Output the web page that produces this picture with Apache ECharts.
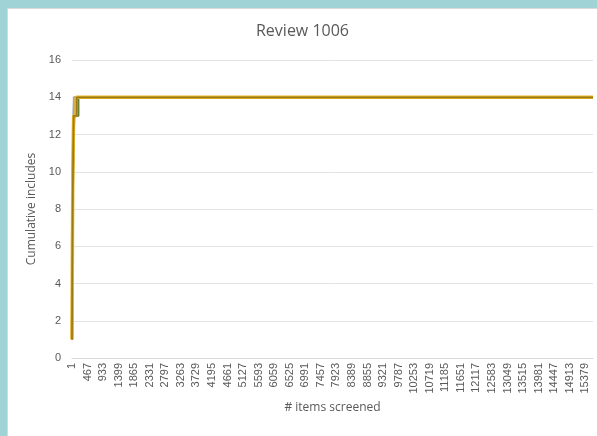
<!DOCTYPE html>
<html>
<head>
<meta charset="utf-8">
<script src="https://cdn.jsdelivr.net/npm/echarts@6/dist/echarts.min.js"></script>
<style>
  html, body { margin: 0; padding: 0; background: #9fd3d6; }
  #main { position: absolute; left: 7px; top: 8px; width: 590px; height: 428px; background: #fff; box-sizing: border-box; border-left: 1px solid #d9d9d9; border-top: 1px solid #d9d9d9; }
</style>
</head>
<body>
<div id="main"></div>
<script>
// x = items screened - 1, y = cumulative includes
var blueRun = [[0, 1], [4, 3], [10, 6], [18, 8], [28, 10], [40, 12], [55, 13], [65, 14], [15610, 14]];
var orangeRun = [[0, 1], [6, 4], [15, 7], [30, 10], [45, 12], [70, 13], [130, 14], [15610, 14]];
var grayRun = [[0, 2], [8, 6], [20, 9], [35, 12], [50, 13], [60, 14], [15610, 14]];
var greenRun = [[0, 1], [10, 5], [25, 9], [45, 12], [60, 13], [190, 14], [15610, 14]];
var goldRun = [[0, 1], [5, 3], [12, 6], [25, 10], [40, 12], [50, 13], [120, 14], [15610, 14]];
var darkGoldRun = [[0, 1], [8, 5], [20, 8], [35, 11], [50, 13], [140, 14], [15610, 14]];

var xMax = 15610;
var xStep = 466;
var yTicks = [0, 2, 4, 6, 8, 10, 12, 14, 16];

var chart = echarts.init(document.getElementById('main'));

function line(name, data, color, width) {
    return {
        name: name, type: 'line', data: data, step: 'end',
        showSymbol: false, animation: false,
        lineStyle: {color: color, width: width}
    };
}

chart.setOption({
    backgroundColor: '#fff',
    title: {
        text: 'Review 1006', left: 'center', top: 9,
        textStyle: {color: '#595959', fontSize: 16, fontWeight: 'normal', fontFamily: 'Open Sans'}
    },
    grid: {left: 64, right: 4, top: 51, bottom: 78},
    xAxis: {
        type: 'value', min: 0, max: xMax, interval: xStep,
        name: '# items screened', nameLocation: 'middle', nameGap: 44,
        nameTextStyle: {color: '#595959', fontSize: 12, fontFamily: 'Open Sans'},
        axisLine: {show: true, lineStyle: {color: '#d9d9d9'}},
        axisTick: {show: false},
        splitLine: {show: false},
        axisLabel: {
            rotate: 90, color: '#595959', fontSize: 11, fontFamily: 'Liberation Sans',
            margin: 5, showMaxLabel: false,
            formatter: function(v) { return String(v + 1); }
        }
    },
    yAxis: {
        type: 'value', min: yTicks[0], max: yTicks[yTicks.length - 1], interval: 2,
        name: 'Cumulative includes', nameLocation: 'middle', nameGap: 27,
        nameTextStyle: {color: '#595959', fontSize: 12, fontFamily: 'Open Sans'},
        axisLine: {show: false},
        axisTick: {show: false},
        splitLine: {lineStyle: {color: '#e3e3e3'}},
        axisLabel: {color: '#595959', fontSize: 11, fontFamily: 'Liberation Sans', margin: 11}
    },
    series: [
        line('A', blueRun, '#6f94bd', 2.25),
        line('B', orangeRun, '#ed7d31', 2.25),
        line('C', grayRun, '#a5a5a5', 2.25),
        line('D', greenRun, '#6b7d3a', 2.25),
        line('E', goldRun, '#e8b72c', 3.5),
        line('F', darkGoldRun, '#9c7a14', 1.75)
    ]
});
</script>
</body>
</html>
